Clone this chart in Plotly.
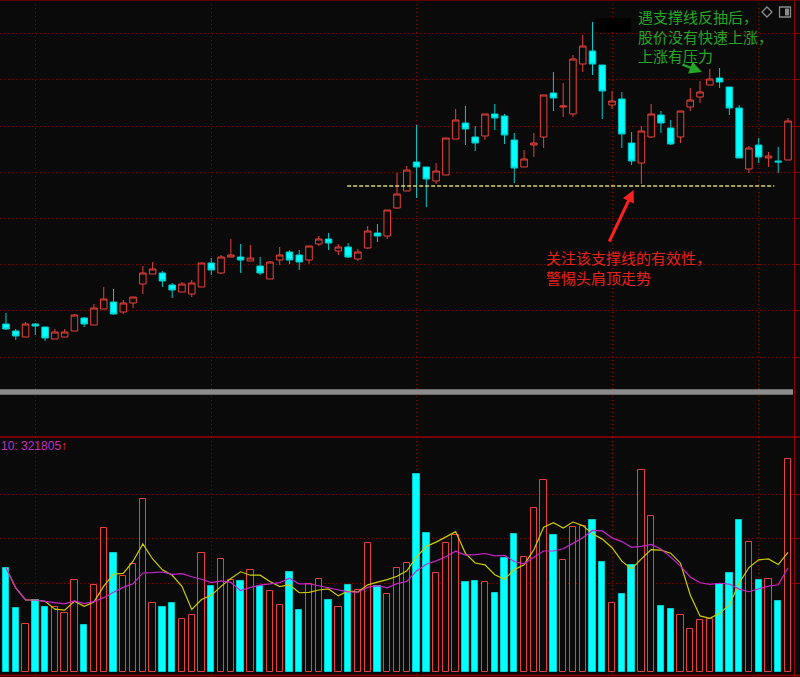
import plotly.graph_objects as go
import pandas as pd

# ---------------- data ----------------
OPEN = [11.76, 11.69, 11.63, 11.76, 11.73, 11.61, 11.63, 11.69, 11.82, 11.75,
        11.91, 11.98, 11.88, 11.97, 12.16, 12.26, 12.27, 12.15, 12.08, 12.06,
        12.13, 12.37, 12.27, 12.43, 12.43, 12.39, 12.34, 12.21, 12.40, 12.48,
        12.45, 12.40, 12.56, 12.61, 12.49, 12.53, 12.41, 12.52, 12.67, 12.64,
        12.92, 13.09, 13.38, 13.33, 13.19, 13.25, 13.61, 13.77, 13.63, 13.64,
        13.86, 13.84, 13.60, 13.33, 13.55, 13.63, 14.07, 13.93, 13.86, 14.36,
        14.49, 14.35, 13.95, 14.01, 13.57, 13.37, 13.63, 13.85, 13.72, 13.63,
        13.93, 14.03, 14.15, 14.22, 14.13, 13.92, 13.31, 13.55, 13.42, 13.39, 13.40]
CLOSE = [11.71, 11.64, 11.76, 11.74, 11.62, 11.68, 11.68, 11.85, 11.76, 11.92,
         12.01, 11.86, 11.97, 12.03, 12.27, 12.31, 12.19, 12.10, 12.16, 12.17,
         12.37, 12.30, 12.43, 12.45, 12.40, 12.42, 12.27, 12.38, 12.45, 12.40,
         12.38, 12.54, 12.61, 12.57, 12.53, 12.43, 12.48, 12.69, 12.64, 12.90,
         13.06, 13.30, 13.33, 13.21, 13.29, 13.62, 13.80, 13.71, 13.57, 13.86,
         13.82, 13.65, 13.32, 13.41, 13.57, 14.05, 14.02, 13.94, 14.41, 14.54,
         14.36, 14.09, 13.99, 13.66, 13.39, 13.69, 13.86, 13.77, 13.56, 13.89,
         14.00, 14.08, 14.21, 14.18, 13.92, 13.42, 13.52, 13.43, 13.44, 13.38, 13.79]
HIGH = [11.87, 11.71, 11.78, 11.77, 11.73, 11.71, 11.71, 11.86, 11.83, 11.96,
        12.13, 12.11, 12.00, 12.03, 12.34, 12.38, 12.29, 12.17, 12.18, 12.20,
        12.37, 12.42, 12.45, 12.61, 12.56, 12.55, 12.43, 12.39, 12.53, 12.50,
        12.50, 12.54, 12.64, 12.67, 12.56, 12.57, 12.51, 12.74, 12.76, 12.90,
        13.27, 13.34, 13.75, 13.33, 13.37, 13.62, 13.91, 13.94, 13.74, 13.86,
        13.96, 13.86, 13.67, 13.50, 13.67, 14.05, 14.28, 14.17, 14.45, 14.65,
        14.78, 14.35, 14.09, 14.08, 13.68, 13.74, 13.96, 13.89, 13.80, 13.89,
        14.12, 14.19, 14.31, 14.32, 14.13, 13.95, 13.54, 13.62, 13.48, 13.53, 13.82]
LOW = [11.70, 11.60, 11.63, 11.65, 11.59, 11.61, 11.63, 11.69, 11.73, 11.75,
       11.91, 11.85, 11.86, 11.92, 12.06, 12.26, 12.13, 12.02, 12.08, 12.03,
       12.13, 12.25, 12.26, 12.43, 12.27, 12.39, 12.25, 12.21, 12.35, 12.36,
       12.30, 12.36, 12.54, 12.50, 12.45, 12.42, 12.39, 12.51, 12.58, 12.61,
       12.91, 13.09, 13.02, 12.93, 13.16, 13.25, 13.61, 13.55, 13.49, 13.60,
       13.70, 13.56, 13.17, 13.33, 13.43, 13.52, 13.89, 13.83, 13.83, 14.28,
       14.25, 13.81, 13.91, 13.52, 13.35, 13.16, 13.62, 13.67, 13.55, 13.57,
       13.89, 13.97, 14.15, 14.12, 13.85, 13.42, 13.27, 13.37, 13.33, 13.27, 13.40]
VOLUME = [321400, 197800, 148300, 222500, 200900, 201800, 182300, 284300, 145200, 268800,
          445000, 367700, 296600, 333700, 534600, 213200, 200900, 212300, 163800, 176100,
          367700, 265700, 349200, 284300, 281200, 315200, 266700, 250300, 207000, 309000,
          191600, 271900, 287400, 223400, 201800, 268800, 253400, 398600, 264800, 241000,
          320400, 337800, 612800, 429500, 305900, 397700, 423300, 277200, 280300, 277200,
          244100, 353200, 427400, 356300, 506800, 593300, 423300, 345100, 448100, 452100,
          468800, 339000, 212300, 241000, 330600, 624200, 483000, 203000, 194700, 176100,
          132900, 159800, 164700, 272800, 306800, 468800, 400800, 283300, 288300, 218500,
          657200]
MONTH_STARTS = [3, 21, 42, 62, 77]          # candle indices of vertical grid lines
PRICE_GRID = [11.43, 11.90, 12.36, 12.82, 13.28, 13.74, 14.21, 14.67]
VOL_GRID = [275000, 411000, 547000]
SUPPORT_PRICE = 13.14
SUPPORT_FROM, SUPPORT_TO = 34.9, 78.6
VOL_LABEL = "10: 321805"
NOTE_GREEN = "遇支撑线反抽后，<br>股价没有快速上涨，<br>上涨有压力"
NOTE_RED = "关注该支撑线的有效性，<br>警惕头肩顶走势"

# ---------------- styling ----------------
BG = "#0a0a0a"
RED = "#e8413a"
CYAN = "#00ffff"
CYAN_EDGE = "#00cccc"
GRID = "#8a0000"
AXIS = "#8b0000"
W, H = 800, 677
RM = 6
PW = W - RM


def px(x):
    return x / PW


def py(y):
    return 1 - y / H


SPLIT = py(437)

idx = list(range(len(OPEN)))
up = [c > o for o, c in zip(OPEN, CLOSE)]
vol = pd.Series(VOLUME, dtype=float)
ma5 = vol.rolling(5, min_periods=1).mean()
ma10 = vol.rolling(10, min_periods=1).mean()

fig = go.Figure()
fig.add_trace(go.Candlestick(
    x=idx, open=OPEN, high=HIGH, low=LOW, close=CLOSE,
    increasing=dict(line=dict(color=RED, width=1), fillcolor=BG),
    decreasing=dict(line=dict(color=CYAN_EDGE, width=1), fillcolor=CYAN),
    whiskerwidth=0, xaxis="x", yaxis="y", hoverinfo="skip", showlegend=False))

fig.add_trace(go.Bar(
    x=idx, y=VOLUME, width=0.65,
    marker=dict(color=[BG if u else CYAN for u in up],
                line=dict(color=[RED if u else CYAN_EDGE for u in up], width=1)),
    xaxis="x2", yaxis="y2", hoverinfo="skip", showlegend=False))
fig.add_trace(go.Scatter(x=idx, y=ma5, mode="lines", line=dict(color="#cccc00", width=1.2),
                         xaxis="x2", yaxis="y2", hoverinfo="skip", showlegend=False))
fig.add_trace(go.Scatter(x=idx, y=ma10, mode="lines", line=dict(color="#c826c8", width=1.2),
                         xaxis="x2", yaxis="y2", hoverinfo="skip", showlegend=False))

xr = [-6 / 9.775, (PW - 6) / 9.775]
xcommon = dict(range=xr, tickvals=MONTH_STARTS, showgrid=True, gridcolor=GRID,
               griddash="1px,3px", gridwidth=1, showticklabels=False, ticks="",
               zeroline=False, showline=False, fixedrange=True)
ycommon = dict(side="right", showgrid=True, gridcolor=GRID, griddash="1px,3px",
               gridwidth=1, showticklabels=False, ticks="outside", ticklen=5,
               tickcolor=AXIS, showline=True, linecolor=AXIS, linewidth=1,
               zeroline=False, fixedrange=True)

fig.update_layout(
    width=W, height=H, margin=dict(l=0, r=RM, t=0, b=0),
    paper_bgcolor=BG, plot_bgcolor=BG, hovermode=False, showlegend=False,
    boxgap=0.33, boxgroupgap=0, bargap=0,
    xaxis=dict(domain=[0, 1], anchor="y", rangeslider=dict(visible=False), **xcommon),
    xaxis2=dict(domain=[0, 1], anchor="y2", matches="x", **xcommon),
    yaxis=dict(domain=[SPLIT, 1], range=[10.63, 15.0], tickvals=PRICE_GRID, anchor="x", **ycommon),
    yaxis2=dict(domain=[0, SPLIT], range=[-15450, 726150], tickvals=VOL_GRID, anchor="x2", **ycommon),
)

shapes = [
    # support line
    dict(type="line", xref="x", yref="y", x0=SUPPORT_FROM, x1=SUPPORT_TO,
         y0=SUPPORT_PRICE, y1=SUPPORT_PRICE, line=dict(color="#d6d66a", width=1.3, dash="4px,2px")),
    # gray separator bar
    dict(type="rect", xref="paper", yref="paper", x0=0, x1=px(793), y0=py(394.7), y1=py(389.3),
         fillcolor="#8c8c8c", line=dict(width=0), layer="above"),
    # panel borders
    dict(type="line", xref="paper", yref="paper", x0=0, x1=W / PW, y0=py(437), y1=py(437),
         line=dict(color="#9a0000", width=1.5), layer="above"),
    dict(type="line", xref="paper", yref="paper", x0=0, x1=W / PW, y0=py(675.5), y1=py(675.5),
         line=dict(color="#800000", width=2), layer="above"),
    dict(type="line", xref="paper", yref="paper", x0=0, x1=W / PW, y0=py(0.5), y1=py(0.5),
         line=dict(color="#600000", width=1), layer="above"),
    # black patch near the top
    dict(type="rect", xref="paper", yref="paper", x0=px(594), x1=px(631), y0=py(32), y1=py(18),
         fillcolor="#000000", line=dict(width=0), layer="above"),
    # top-right icons
    dict(type="path", xref="paper", yref="paper",
         path=f"M {px(762)},{py(12)} L {px(767)},{py(7)} L {px(772)},{py(12)} L {px(767)},{py(17)} Z",
         line=dict(color="#8a8a8a", width=1.3), layer="above"),
    dict(type="rect", xref="paper", yref="paper", x0=px(779.5), x1=px(790.5), y0=py(17), y1=py(7),
         line=dict(color="#8a8a8a", width=1.3), layer="above"),
    dict(type="rect", xref="paper", yref="paper", x0=px(785), x1=px(789), y0=py(15.5), y1=py(8.5),
         fillcolor="#8a8a8a", line=dict(width=0), layer="above"),
]
fig.update_layout(shapes=shapes)

cjk = "Noto Sans CJK SC"
annotations = [
    dict(xref="paper", yref="paper", x=px(636), y=py(35.7), xanchor="left", yanchor="middle",
         text=NOTE_GREEN, showarrow=False, align="left",
         font=dict(family=cjk, size=15, color="#26a626")),
    dict(xref="paper", yref="paper", x=px(544), y=py(267), xanchor="left", yanchor="middle",
         text=NOTE_RED, showarrow=False, align="left",
         font=dict(family=cjk, size=15, color="#e5221b")),
    dict(xref="x", yref="y", x=71.2, y=14.28, ax=-21, ay=-8, text="", showarrow=True,
         arrowcolor="#26a626", arrowwidth=2.5, arrowhead=2, arrowsize=1, standoff=0),
    dict(xref="x", yref="y", x=64.2, y=13.10, ax=-25, ay=53, text="", showarrow=True,
         arrowcolor="#ff2020", arrowwidth=3, arrowhead=2, arrowsize=0.8, standoff=0),
    dict(xref="paper", yref="paper", x=px(-1), y=py(446), xanchor="left", yanchor="middle",
         text=VOL_LABEL + "<span style='color:#ff3030'>↑</span>", showarrow=False,
         font=dict(family="Liberation Sans", size=12, color="#c030c0")),
]
fig.update_layout(annotations=annotations)

fig.write_html("out.html", config={"displayModeBar": False},
               post_script="document.body.style.margin='0px';document.body.style.overflow='hidden';")
